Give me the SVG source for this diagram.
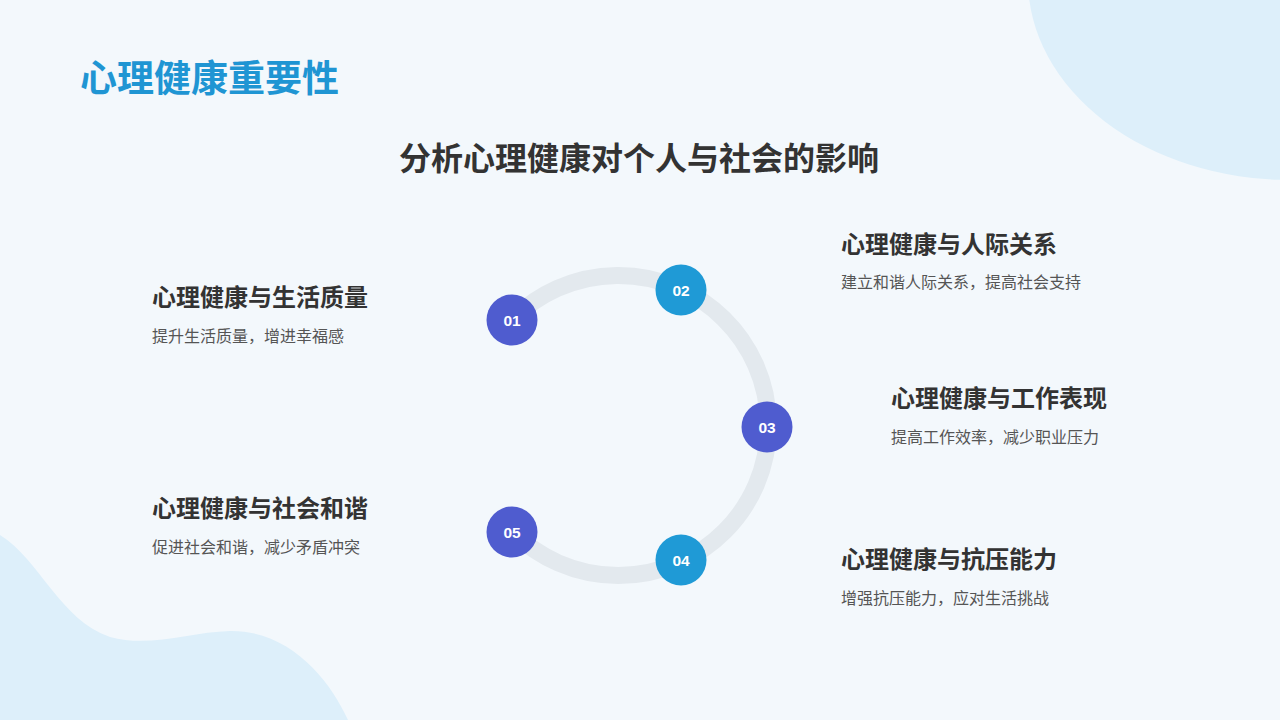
<svg xmlns="http://www.w3.org/2000/svg" width="1280" height="720" viewBox="0 0 1280 720">
<style>
.bg{fill:#f3f8fc}
.blob{fill:#ddeffa}
.title{font-family:"Noto Sans CJK SC","Noto Sans",sans-serif;font-weight:700;font-size:37px;fill:#1f95d3}
.sub{font-family:"Noto Sans CJK SC","Noto Sans",sans-serif;font-weight:700;font-size:32px;fill:#333333}
.h{font-family:"Noto Sans CJK SC","Noto Sans",sans-serif;font-weight:700;font-size:24px;fill:#333333}
.d{font-family:"Noto Sans CJK SC","Noto Sans",sans-serif;font-size:16px;fill:#555555}
.num{font-family:"Liberation Sans",Arial,sans-serif;font-weight:700;font-size:15.5px;fill:#ffffff}
.c1{fill:#4f5ccf}
.c2{fill:#1f9ad6}
</style>
<rect class="bg" x="0" y="0" width="1280" height="720"/>
<ellipse class="blob" cx="1290" cy="-20" rx="262" ry="200"/>
<path class="blob" d="M0,535 C40,560 60,620 110,637 C150,648 190,632 230,631 C290,630 330,680 348,720 L0,720 Z"/>
<text class="title" x="80" y="92">心理健康重要性</text>
<text class="sub" x="639" y="170" text-anchor="middle">分析心理健康对个人与社会的影响</text>
<g id="connectors">
<path d="M511.9,531.1 A150,150 0 1 0 510.9,320.9" fill="none" stroke="#e3e9ee" stroke-width="17"/>
</g>
<g id="node1">
<circle class="c1" cx="512" cy="320" r="25.5"/>
<text class="num" x="512" y="325.5" text-anchor="middle">01</text>
<text class="h" x="152" y="306">心理健康与生活质量</text>
<text class="d" x="152" y="342">提升生活质量，增进幸福感</text>
</g>
<g id="node2">
<circle class="c2" cx="681" cy="290" r="25.5"/>
<text class="num" x="681" y="295.5" text-anchor="middle">02</text>
<text class="h" x="841" y="253">心理健康与人际关系</text>
<text class="d" x="841" y="288">建立和谐人际关系，提高社会支持</text>
</g>
<g id="node3">
<circle class="c1" cx="767" cy="427" r="25.5"/>
<text class="num" x="767" y="432.5" text-anchor="middle">03</text>
<text class="h" x="891" y="407">心理健康与工作表现</text>
<text class="d" x="891" y="443">提高工作效率，减少职业压力</text>
</g>
<g id="node4">
<circle class="c2" cx="681" cy="560" r="25.5"/>
<text class="num" x="681" y="565.5" text-anchor="middle">04</text>
<text class="h" x="841" y="568">心理健康与抗压能力</text>
<text class="d" x="841" y="604">增强抗压能力，应对生活挑战</text>
</g>
<g id="node5">
<circle class="c1" cx="512" cy="532" r="25.5"/>
<text class="num" x="512" y="537.5" text-anchor="middle">05</text>
<text class="h" x="152" y="517">心理健康与社会和谐</text>
<text class="d" x="152" y="553">促进社会和谐，减少矛盾冲突</text>
</g>
</svg>
